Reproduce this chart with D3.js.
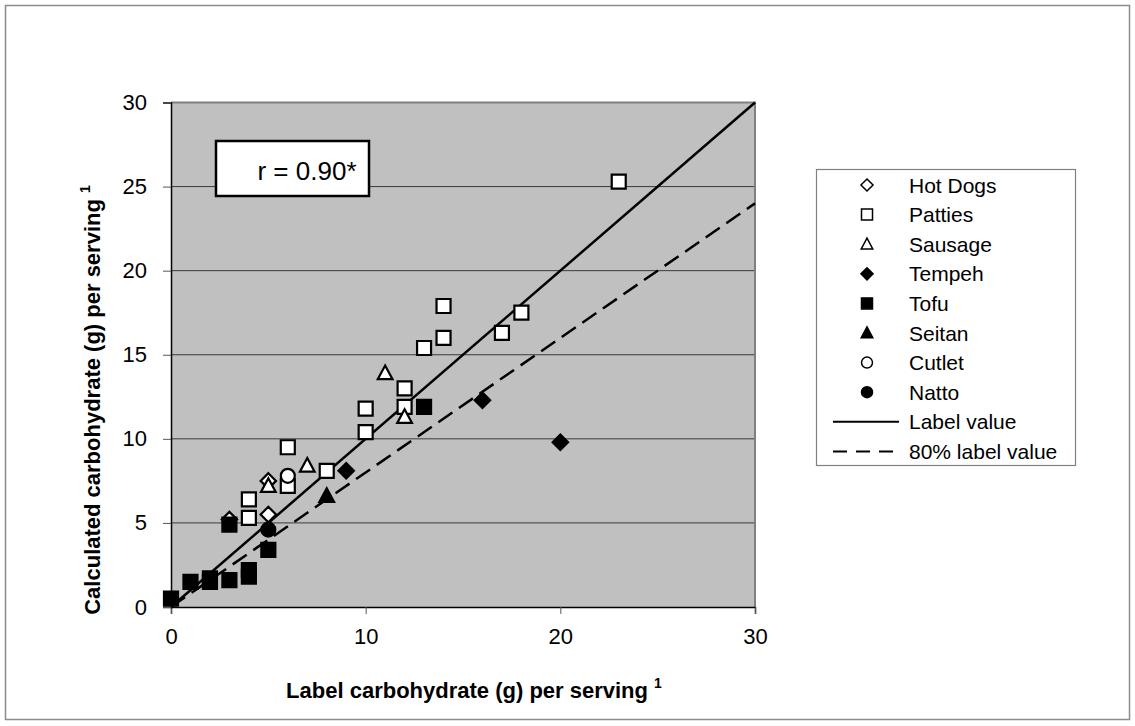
<!DOCTYPE html>
<html><head><meta charset="utf-8">
<script src="https://d3js.org/d3.v7.min.js"></script>
<style>body{margin:0;background:#fff}svg{display:block}text{font-family:"Liberation Sans",Arial,sans-serif}</style>
</head><body>
<svg id="c" width="1135" height="726"></svg>
<script>
// Data: [label carbohydrate, calculated carbohydrate]
const hotDogs = [[3,5.2],[5,5.5],[5,7.5]];
const patties = [[4,5.3],[4,6.4],[6,7.2],[6,9.5],[8,8.1],[10,10.4],[10,11.8],[12,11.9],[12,13.0],[13,15.4],[14,16.0],[14,17.9],[17,16.3],[18,17.5],[23,25.3]];
const sausage = [[5,7.2],[7,8.4],[11,13.9],[12,11.3]];
const tempeh = [[9,8.1],[16,12.3],[20,9.8]];
const tofu = [[0,0.5],[1,1.5],[2,1.5],[2,1.7],[3,1.6],[4,1.8],[4,2.2],[3,4.9],[5,3.4],[13,11.9]];
const seitan = [[8,6.6]];
const cutlet = [[6,7.8]];
const natto = [[5,4.6]];
const seriesNames = ["Hot Dogs","Patties","Sausage","Tempeh","Tofu","Seitan","Cutlet","Natto"];
const seriesShapes = ["diamond","square","triangle","diamond","square","triangle","circle","circle"];
const seriesFilled = [false,false,false,true,true,true,false,true];
const seriesData = [hotDogs,patties,sausage,tempeh,tofu,seitan,cutlet,natto];
const xTicks = [0,10,20,30];
const yTicks = [0,5,10,15,20,25,30];
const rText = "r = 0.90*";

const svg = d3.select("#c");
const L=171, R=755, T=102.5, B=607;
const x = d3.scaleLinear().domain([0,30]).range([L,R]);
const y = d3.scaleLinear().domain([0,30]).range([B,T]);

svg.append("rect").attr("x",5.5).attr("y",5.5).attr("width",1124).attr("height",714)
  .attr("fill","#fff").attr("stroke","#8c8c8c").attr("stroke-width",1.5);

svg.append("rect").attr("x",L).attr("y",T).attr("width",R-L).attr("height",B-T).attr("fill","#c0c0c0");
// gridlines
svg.append("g").selectAll("line").data(yTicks.filter(d=>d>0&&d<30)).join("line")
  .attr("x1",L).attr("x2",R).attr("y1",d=>y(d)).attr("y2",d=>y(d)).attr("stroke","#3a3a3a").attr("stroke-width",1);
// top/right border
svg.append("path").attr("d",`M${L},${T}H${R}V${B}`).attr("fill","none").attr("stroke","#808080").attr("stroke-width",2);

// axes
const xAxis = d3.axisBottom(x).tickValues(xTicks).tickSize(7).tickPadding(14);
const gx = svg.append("g").attr("transform",`translate(0,${B})`).call(xAxis);
gx.select(".domain").attr("stroke","#000").attr("stroke-width",1.5);
gx.selectAll(".tick line").attr("stroke","#555");
gx.selectAll("text").attr("font-size",22).attr("fill","#000").attr("font-family","Liberation Sans, Arial");
const yAxis = d3.axisLeft(y).tickValues(yTicks).tickSize(8).tickPadding(16);
const gy = svg.append("g").attr("transform",`translate(${L},0)`).call(yAxis);
gy.select(".domain").attr("stroke","#000").attr("stroke-width",1.5);
gy.selectAll(".tick line").attr("stroke","#555");
gy.selectAll("text").attr("font-size",22).attr("fill","#000").attr("font-family","Liberation Sans, Arial");

// reference lines
const line = d3.line().x(d=>x(d[0])).y(d=>y(d[1]));
svg.append("path").attr("d",line([[0,0],[30,30]])).attr("stroke","#000").attr("stroke-width",2.5).attr("fill","none");
svg.append("path").attr("d",line([[0,0],[30,24]])).attr("stroke","#000").attr("stroke-width",2.5).attr("fill","none").attr("stroke-dasharray","17,8");

function shapePath(shape, s){
  const h=s/2;
  if(shape==="square") return `M${-h},${-h}H${h}V${h}H${-h}Z`;
  if(shape==="diamond") return `M0,${-h*1.1}L${h*1.1},0L0,${h*1.1}L${-h*1.1},0Z`;
  if(shape==="triangle") return `M0,${-h*1.1}L${h*1.05},${h*0.85}L${-h*1.05},${h*0.85}Z`;
  return `M${h},0A${h},${h} 0 1,1 ${-h},0A${h},${h} 0 1,1 ${h},0Z`;
}
seriesData.forEach((data,i)=>{
  svg.append("g").selectAll("path").data(data).join("path")
    .attr("transform",d=>`translate(${x(d[0])},${y(d[1])})`)
    .attr("d",shapePath(seriesShapes[i],14))
    .attr("fill",seriesFilled[i]?"#000":"#fff")
    .attr("stroke","#000").attr("stroke-width",2.2);
});

// r box
svg.append("rect").attr("x",216).attr("y",141).attr("width",153).attr("height",55)
  .attr("fill","#fff").attr("stroke","#000").attr("stroke-width",2.5);
svg.append("text").attr("x",307).attr("y",180).attr("text-anchor","middle").attr("font-size",26).text(rText);

// legend
const lg = svg.append("g");
lg.append("rect").attr("x",816.5).attr("y",169.5).attr("width",259).attr("height",296).attr("fill","#fff").attr("stroke","#808080").attr("stroke-width",1.2);
const ly0=185, ldy=29.6;
seriesNames.forEach((n,i)=>{
  const yy=ly0+i*ldy;
  lg.append("path").attr("transform",`translate(867,${yy})`).attr("d",shapePath(seriesShapes[i],11))
    .attr("fill",seriesFilled[i]?"#000":"#fff").attr("stroke","#000").attr("stroke-width",1.5);
  lg.append("text").attr("x",909).attr("y",yy+7.5).attr("font-size",21).text(n);
});
const lineNames=["Label value","80% label value"];
lineNames.forEach((n,j)=>{
  const yy=ly0+(8+j)*ldy;
  lg.append("line").attr("x1",833).attr("x2",899).attr("y1",yy).attr("y2",yy).attr("stroke","#000").attr("stroke-width",2)
    .attr("stroke-dasharray",j?"14,9":null);
  lg.append("text").attr("x",909).attr("y",yy+7.5).attr("font-size",21).text(n);
});

// axis titles
const xt = svg.append("text").attr("x",474).attr("y",698).attr("text-anchor","middle").attr("font-size",22).attr("font-weight","bold");
xt.append("tspan").text("Label carbohydrate (g) per serving ");
xt.append("tspan").attr("font-size",14).attr("dy",-10).text("1");
const yt = svg.append("text").attr("transform","translate(100,400) rotate(-90)").attr("text-anchor","middle").attr("font-size",22).attr("font-weight","bold");
yt.append("tspan").text("Calculated carbohydrate (g) per serving ");
yt.append("tspan").attr("font-size",14).attr("dy",-10).text("1");
</script>
</body></html>
